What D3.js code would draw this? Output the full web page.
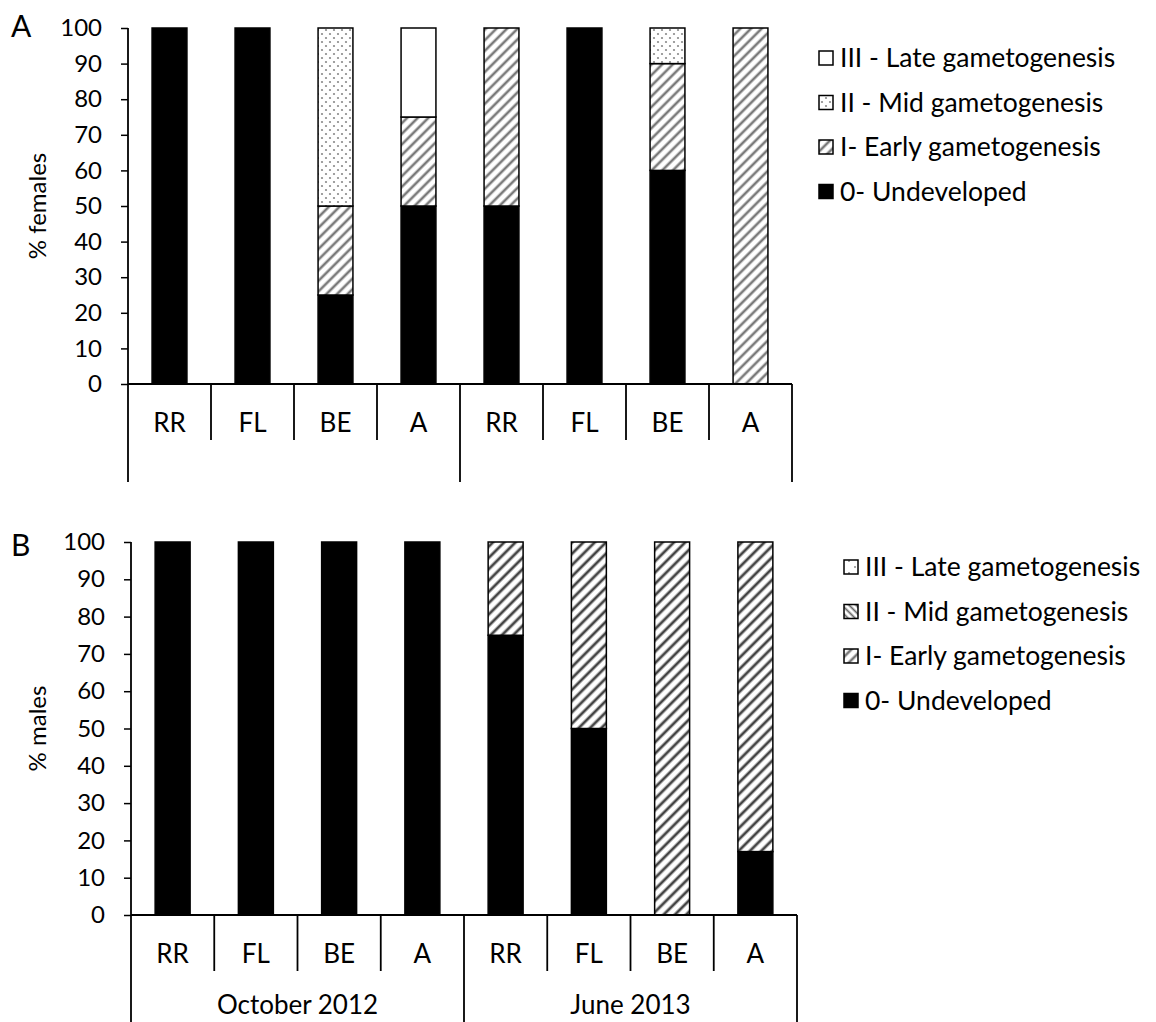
<!DOCTYPE html>
<html><head><meta charset="utf-8">
<script src="https://cdn.jsdelivr.net/npm/d3@7"></script>
<style>body{margin:0;background:#fff}svg{display:block}text{font-family:Lato,"Open Sans",sans-serif;fill:#000}</style>
</head><body>
<svg id="c" width="1156" height="1022"></svg>
<script>
const sites = ["RR","FL","BE","A"];
const periods = ["October 2012","June 2013"];
const stageKeys = ["undev","early","mid","late"];
const stageLabels = ["0- Undeveloped","I- Early gametogenesis","II - Mid gametogenesis","III - Late gametogenesis"];
const yTicks = [0,10,20,30,40,50,60,70,80,90,100];

const femalesUndeveloped = [100,100,25,50,50,100,60,0];
const femalesEarly       = [0,0,25,25,50,0,30,100];
const femalesMid         = [0,0,50,0,0,0,10,0];
const femalesLate        = [0,0,0,25,0,0,0,0];

const malesUndeveloped = [100,100,100,100,75,50,0,17];
const malesEarly       = [0,0,0,0,25,50,100,83];
const malesMid         = [0,0,0,0,0,0,0,0];
const malesLate        = [0,0,0,0,0,0,0,0];

const svg = d3.select("#c");
const defs = svg.append("defs");

function hatch(id, color, dir, sw, gap){
  const p = defs.append("pattern").attr("id",id).attr("patternUnits","userSpaceOnUse")
    .attr("width",gap).attr("height",gap)
    .attr("patternTransform", `rotate(${dir})`);
  p.append("rect").attr("width",gap).attr("height",gap).attr("fill","#fff");
  p.append("line").attr("x1",0).attr("y1",gap/2).attr("x2",gap).attr("y2",gap/2)
    .attr("stroke",color).attr("stroke-width",sw);
}
function dots(id, color, size, r){
  const p = defs.append("pattern").attr("id",id).attr("patternUnits","userSpaceOnUse")
    .attr("width",size).attr("height",size);
  p.append("rect").attr("width",size).attr("height",size).attr("fill","#fff");
  p.append("circle").attr("cx",size/4).attr("cy",size/4).attr("r",r).attr("fill",color);
  p.append("circle").attr("cx",size*3/4).attr("cy",size*3/4).attr("r",r).attr("fill",color);
}
hatch("hA","#7a7a7a",-45,2.6,7.5);
hatch("hB","#444",-45,2.8,8);
hatch("hBmid","#666",45,1.8,5);
dots("dA","#8a8a8a",8,1.1);
dots("dBlate","#888",12,1.0);

const tickFont = 24, textFont = 26, legendFont = 26.5;

function panel(cfg){
  const {left,right,top,bottom,vals,fills,legendFills,legendX,legendY,letter,letterY,yTitle,catLineBottom,groupLineBottom,groupLabelY,showGroups} = cfg;
  const g = svg.append("g");
  const keys = d3.range(8).map(i => periods[Math.floor(i/4)]+"|"+sites[i%4]);
  const x = d3.scaleBand().domain(keys).range([left,right]).padding(0);
  const y = d3.scaleLinear().domain([0,100]).range([bottom,top]);
  const rows = keys.map((k,i)=>({key:k, undev:vals[0][i], early:vals[1][i], mid:vals[2][i], late:vals[3][i]}));
  const series = d3.stack().keys(stageKeys)(rows);
  const bw = x.bandwidth()*0.42;
  series.forEach((s,si)=>{
    g.append("g").selectAll("rect").data(s.filter(d=>d[1]-d[0]>0)).join("rect")
      .attr("x",d=>x(d.data.key)+(x.bandwidth()-bw)/2)
      .attr("width",bw)
      .attr("y",d=>y(d[1]))
      .attr("height",d=>y(d[0])-y(d[1]))
      .attr("fill",fills[si])
      .attr("stroke","#000").attr("stroke-width",1.5);
  });
  // y axis
  const ya = d3.axisLeft(y).tickValues(yTicks).tickSize(7).tickPadding(19);
  const yg = g.append("g").attr("transform",`translate(${left},0)`).call(ya);
  yg.select(".domain").remove();
  yg.selectAll(".tick line").attr("stroke","#000").attr("stroke-width",1.5);
  yg.selectAll(".tick text").attr("font-size",tickFont).attr("font-family","Lato").attr("fill","#000");
  g.append("line").attr("x1",left).attr("x2",left).attr("y1",top).attr("y2",groupLineBottom).attr("stroke","#000").attr("stroke-width",1.8);
  g.append("line").attr("x1",left).attr("x2",right).attr("y1",bottom).attr("y2",bottom).attr("stroke","#000").attr("stroke-width",2);
  // category separators
  keys.forEach((k,i)=>{
    if(i===0) return;
    const xx = x(k);
    const isGroup = i%4===0;
    g.append("line").attr("x1",xx).attr("x2",xx).attr("y1",bottom).attr("y2",isGroup?groupLineBottom:catLineBottom).attr("stroke","#000").attr("stroke-width",1.8);
  });
  g.append("line").attr("x1",right).attr("x2",right).attr("y1",bottom).attr("y2",groupLineBottom).attr("stroke","#000").attr("stroke-width",1.8);
  g.selectAll(".cat").data(keys).join("text")
    .attr("x",d=>x(d)+x.bandwidth()/2).attr("y",bottom+48)
    .attr("text-anchor","middle").attr("font-size",textFont).text(d=>d.split("|")[1]);
  if(showGroups){
    periods.forEach((p,pi)=>{
      const x0 = x(keys[pi*4]), x1 = x(keys[pi*4+3])+x.bandwidth();
      g.append("text").attr("x",(x0+x1)/2).attr("y",groupLabelY).attr("text-anchor","middle").attr("font-size",textFont).text(p);
    });
  }
  // y title
  g.append("text").attr("transform",`translate(46,${(top+bottom)/2}) rotate(-90)`)
    .attr("text-anchor","middle").attr("font-size",tickFont).text(yTitle);
  g.append("text").attr("x",11).attr("y",letterY).attr("font-size",30).text(letter);
  // legend (top to bottom: III, II, I, 0)
  const order = [3,2,1,0];
  order.forEach((si,ri)=>{
    const yy = legendY + ri*44.5;
    g.append("rect").attr("x",legendX).attr("y",yy-7).attr("width",14).attr("height",14)
      .attr("fill",legendFills[si]).attr("stroke","#000").attr("stroke-width",1.5);
    g.append("text").attr("x",legendX+21).attr("y",yy+9).attr("font-size",legendFont).text(stageLabels[si]);
  });
}

panel({left:128,right:792,top:28,bottom:384,
  vals:[femalesUndeveloped,femalesEarly,femalesMid,femalesLate],
  fills:["#000","url(#hA)","url(#dA)","#fff"],
  legendFills:["#000","url(#hA)","url(#dA)","#fff"],
  legendX:819,legendY:58,letter:"A",letterY:37,yTitle:"% females",
  catLineBottom:440,groupLineBottom:482,groupLabelY:0,showGroups:false});

panel({left:131,right:797,top:542,bottom:915,
  vals:[malesUndeveloped,malesEarly,malesMid,malesLate],
  fills:["#000","url(#hB)","url(#hBmid)","url(#dBlate)"],
  legendFills:["#000","url(#hA)","url(#hBmid)","url(#dBlate)"],
  legendX:844,legendY:567,letter:"B",letterY:556,yTitle:"% males",
  catLineBottom:971,groupLineBottom:1022,groupLabelY:1014,showGroups:true});
</script>
</body></html>
